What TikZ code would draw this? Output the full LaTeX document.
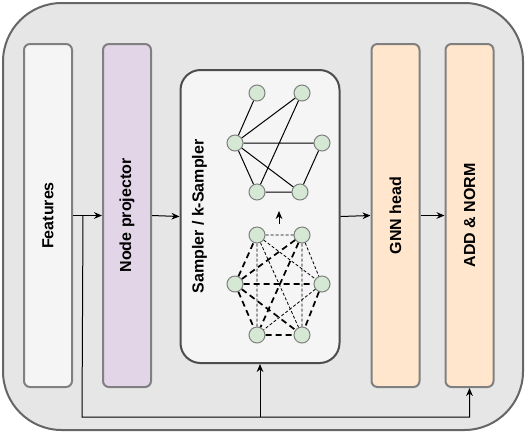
\documentclass[tikz,border=0pt]{standalone}
\usepackage{fontspec}
\setmainfont{Liberation Sans}
\usepackage{tikz}
\usetikzlibrary{arrows.meta}
\usetikzlibrary{positioning}
\definecolor{backfill}{HTML}{E6E6E6}
\definecolor{backline}{HTML}{666666}
\definecolor{boxline}{HTML}{808080}
\definecolor{featfill}{HTML}{F5F5F5}
\definecolor{projfill}{HTML}{E1D5E7}
\definecolor{headfill}{HTML}{FFE6CC}
\definecolor{vertfill}{HTML}{D5E8D4}
\definecolor{sampline}{HTML}{4D4D4D}
\tikzset{block/.style={draw=boxline, line width=1.5pt, rounded corners=4.5pt, minimum width=36pt, minimum height=257.25pt, inner sep=0pt, font=\bfseries\fontsize{12}{14}\selectfont}}
\tikzset{connect/.style={draw, line width=0.75pt}}
\tikzset{vert/.style={circle, draw=boxline, line width=0.75pt, fill=vertfill, minimum size=12pt, inner sep=0pt}}
\tikzset{kept/.style={draw, line width=0.75pt}}
\tikzset{strong/.style={draw, line width=1.3pt, dash pattern=on 4.5pt off 3pt}}
\tikzset{weak/.style={draw, line width=0.6pt, dash pattern=on 2.25pt off 1.5pt}}

\begin{document}
\begin{tikzpicture}[x=0.75pt,y=-0.75pt,>={Stealth[length=6pt,width=5pt]}]
\useasboundingbox (0,0) rectangle (527,433);

\node[draw=backline, fill=backfill, line width=1.5pt, rounded corners=44pt, minimum width=390pt, minimum height=320.25pt] (back) at (263,216.5) {};

\node[block,fill=featfill] (feat) at (48,215.5) {\rotatebox{90}{Features}};
\node[block,fill=projfill] (proj) at([xshift=59.25pt]feat) {\rotatebox{90}{Node projector}};
\node[draw=sampline, fill=featfill, line width=1.5pt, rounded corners=15pt, minimum width=119.25pt, minimum height=219.75pt] (samp) at (260,216.5) {};
\node[font=\bfseries\fontsize{12}{14}\selectfont, inner sep=0pt] (samptext) at([xshift=15pt]samp.west) {\rotatebox{90}{Sampler / k-Sampler}};
\node[block,fill=headfill] (gnn) at (395.5,215.5) {\rotatebox{90}{GNN head}};
\node[block,fill=headfill] (add) at([xshift=55.5pt]gnn) {\rotatebox{90}{ADD \& NORM}};

% sampled graph
\node[vert] (s1) at (257,93) {};
\node[vert] (s2) at (302,93) {};
\node[vert] (s3) at (235,143) {};
\node[vert] (s4) at (322,143) {};
\node[vert] (s5) at (257,192) {};
\node[vert] (s6) at (300,192) {};
\path[kept] (s3) -- (s1) (s3) -- (s2) (s2) -- (s5) (s3) -- (s4);
\path[kept] (s3) -- (s5) (s3) -- (s6) (s4) -- (s6) (s5) -- (s6);

% complete graph
\node[vert] (c1) at (257,235) {};
\node[vert] (c2) at (302,235) {};
\node[vert] (c3) at (235,284) {};
\node[vert] (c4) at (322,284) {};
\node[vert] (c5) at (257,335) {};
\node[vert] (c6) at (302,335) {};
\path[weak] (c1) -- (c2) (c1) -- (c4) (c1) -- (c5) (c1) -- (c6);
\path[weak] (c2) -- (c4) (c2) -- (c6) (c4) -- (c5);
\path[strong] (c3) -- (c1) (c3) -- (c2) (c2) -- (c5) (c3) -- (c4);
\path[strong] (c3) -- (c5) (c3) -- (c6) (c4) -- (c6) (c5) -- (c6);

\coordinate (g0) at (279,224);
\coordinate (g1) at (279,211);
\path[connect,->] (g0) -- (g1);

\path[connect,->] (feat.east) -- (proj.west);
\path[connect,->] (proj.east) -- (samp.west);
\path[connect,->] (samp.east) -- (gnn.west);
\path[connect,->] (gnn.east) -- (add.west);

\coordinate (tap) at ([xshift=7.5pt]feat.east);
\coordinate (bus) at (82,417);
\path[connect,->] (tap) -- (bus) -| (add.south);
\path[connect,->] (bus -| samp.south) -- (samp.south);

\end{tikzpicture}
\end{document}
